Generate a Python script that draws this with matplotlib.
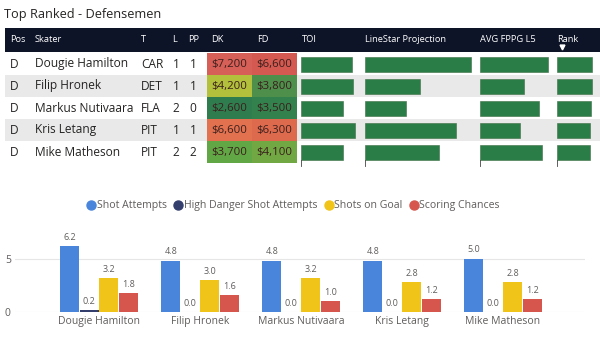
import matplotlib
matplotlib.use("Agg")
import matplotlib.pyplot as plt
from matplotlib.lines import Line2D
import numpy as np

plt.rcParams['font.family'] = ['Open Sans', 'DejaVu Sans']

# ---------------- data ----------------
title = "Top Ranked - Defensemen"
headers = ["Pos", "Skater", "T", "L", "PP", "DK", "FD", "TOI", "LineStar Projection", "AVG FPPG L5", "Rank"]
pos = ["D", "D", "D", "D", "D"]
skaters = ["Dougie Hamilton", "Filip Hronek", "Markus Nutivaara", "Kris Letang", "Mike Matheson"]
teams = ["CAR", "DET", "FLA", "PIT", "PIT"]
line = [1, 1, 2, 1, 2]
pp = [1, 1, 0, 1, 2]
dk = ["$7,200", "$4,200", "$2,600", "$6,600", "$3,700"]
fd = ["$6,600", "$3,800", "$3,500", "$6,300", "$4,100"]
dk_colors = ["#d65f57", "#b3c03c", "#2f7d4e", "#e1714f", "#62a745"]
fd_colors = ["#d45a51", "#4e8f4c", "#33814d", "#de6a4e", "#71a843"]
toi = [21.8, 22.4, 17.9, 23.1, 17.9]
linestar = [12.6, 6.6, 4.9, 10.9, 8.8]
avg_fppg = [10.2, 6.7, 8.9, 6.0, 9.3]
rank_score = [9.6, 9.6, 9.4, 9.0, 9.0]

series_names = ["Shot Attempts", "High Danger Shot Attempts", "Shots on Goal", "Scoring Chances"]
shot_attempts = [6.2, 4.8, 4.8, 4.8, 5.0]
hd_attempts = [0.2, 0.0, 0.0, 0.0, 0.0]
shots_on_goal = [3.2, 3.0, 3.2, 2.8, 2.8]
scoring_chances = [1.8, 1.6, 1.0, 1.2, 1.2]
series_colors = ["#4a85dc", "#343f6e", "#f0c419", "#d6564d"]

# ---------------- figure ----------------
fig = plt.figure(figsize=(6, 3.4), dpi=100)
ax = fig.add_axes([0, 0, 1, 1])
ax.set_xlim(0, 600)
ax.set_ylim(340, 0)
ax.axis('off')

txt = "#252423"
ax.text(4, 14.5, title, fontsize=9.2, color="#252423", va='center', ha='left')

# header band
ax.barh([40], [595], left=5, height=24, color="#0e1428")
hdr_x = [10, 35, 141, 172, 188, 211, 257, 302, 365, 480, 557]
for h, x in zip(headers, hdr_x):
    ax.text(x, 39.5, h, color="white", fontsize=6.7, va='center', ha='left')
ax.plot([561.5], [46.5], marker='v', color='white', markersize=3.5)

row_y = [64, 86, 108, 130, 152]
row_h = 22
# alternating row backgrounds
for i, y in enumerate(row_y):
    if i % 2 == 1:
        ax.barh([y], [595], left=5, height=row_h, color="#e9e9e9")

# DK / FD colored cells
ax.barh(row_y, [45] * 5, left=207, height=row_h, color=dk_colors)
ax.barh(row_y, [45] * 5, left=252, height=row_h, color=fd_colors)

fs = 8.6
for i, y in enumerate(row_y):
    ax.text(10, y, pos[i], fontsize=fs, color=txt, va='center')
    ax.text(35, y, skaters[i], fontsize=fs, color=txt, va='center')
    ax.text(141, y, teams[i], fontsize=fs, color=txt, va='center')
    ax.text(176, y, str(line[i]), fontsize=fs, color=txt, va='center', ha='center')
    ax.text(193, y, str(pp[i]), fontsize=fs, color=txt, va='center', ha='center')
    ax.text(247, y, dk[i], fontsize=8.2, color="#3a1f1c", va='center', ha='right')
    ax.text(292, y, fd[i], fontsize=8.2, color="#3a1f1c", va='center', ha='right')

# data bars
bar_green = "#2a7d47"
bar_cols = [(toi, 301, 54), (linestar, 365, 105.7), (avg_fppg, 480, 67.7), (rank_score, 557, 35)]
for vals, x0, wmax in bar_cols:
    v = np.array(vals, dtype=float)
    widths = v / v.max() * wmax
    ax.barh(row_y, widths, left=x0, height=15, color=bar_green, edgecolor="#3c6e45", linewidth=0.4)
    ax.plot([x0, x0], [160, 166], color="#444444", linewidth=0.6)

# ---------------- bar chart ----------------
bx = fig.add_axes([15 / 600, 28 / 340, 570 / 600, 77 / 340])
xi = np.arange(len(skaters))
offsets = [-0.29, -0.097, 0.097, 0.29]
all_series = [shot_attempts, hd_attempts, shots_on_goal, scoring_chances]
for vals, off, col in zip(all_series, offsets, series_colors):
    bars = bx.bar(xi + off, vals, width=0.19, color=col, zorder=3)
    bx.bar_label(bars, labels=[f"{v:.1f}" for v in vals], padding=3, fontsize=6.5, color="#605e5c")
bx.set_xlim(-0.832, 4.812)
bx.set_ylim(0, 7.2)
bx.set_yticks([0, 5])
bx.set_yticklabels(["0", "5"])
bx.set_xticks(xi)
bx.set_xticklabels(skaters)
bx.tick_params(axis='both', length=0, labelsize=7.5, colors="#605e5c")
bx.tick_params(axis='y', pad=3)
bx.tick_params(axis='x', pad=3)
bx.grid(axis='y', color="#e6e6e6", linewidth=0.8, zorder=0)
for s in bx.spines.values():
    s.set_visible(False)
bx.set_facecolor('none')

handles = [Line2D([], [], marker='o', linestyle='none', markersize=6.5, color=c) for c in series_colors]
fig.legend(handles, series_names, loc='center', bbox_to_anchor=(293 / 600, 1 - 206 / 340), ncol=4,
           frameon=False, fontsize=7.6, labelcolor="#605e5c", handletextpad=0.05, columnspacing=0.55,
           handlelength=1.0, borderaxespad=0)

fig.savefig("out.png", dpi=100)
